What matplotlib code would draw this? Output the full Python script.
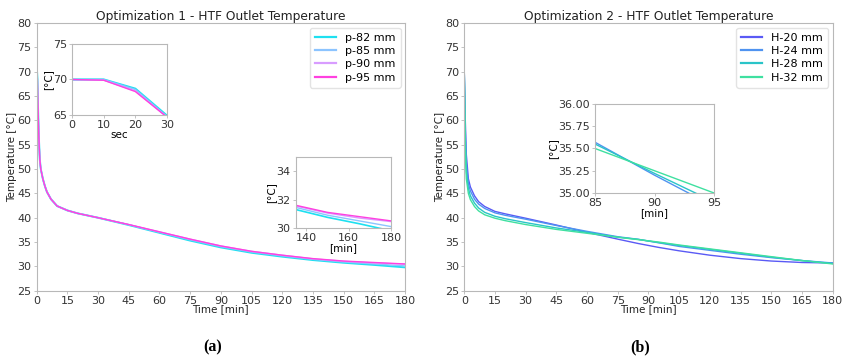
import matplotlib
matplotlib.use("Agg")
import matplotlib.pyplot as plt
import numpy as np

# ---------------- data ----------------
t1 = [0, 1/6, 1/3, 0.5, 1, 1.5, 2, 3, 4, 5, 7, 10, 15, 20, 30, 45, 60, 75, 90, 105, 120, 135, 150, 165, 180]
p82 = [70, 70.0, 68.7, 64.9, 57, 52, 50, 48, 46.5, 45.3, 43.8, 42.4, 41.5, 40.9, 40.0, 38.5, 36.9, 35.3, 33.9, 32.8, 32.0, 31.3, 30.75, 30.3, 29.8]
p85 = [70, 70.0, 68.6, 64.8, 57, 52, 50, 48, 46.5, 45.3, 43.8, 42.4, 41.5, 40.9, 40.0, 38.55, 37.0, 35.45, 34.05, 32.95, 32.15, 31.45, 30.9, 30.5, 30.1]
p90 = [70, 69.9, 68.4, 64.7, 57, 52, 50, 48, 46.5, 45.3, 43.8, 42.4, 41.5, 40.9, 40.0, 38.6, 37.1, 35.6, 34.2, 33.1, 32.3, 31.55, 31.05, 30.7, 30.45]
p95 = [70, 69.9, 68.3, 64.7, 57, 52, 50, 48, 46.5, 45.3, 43.8, 42.4, 41.5, 40.9, 40.0, 38.6, 37.1, 35.6, 34.2, 33.1, 32.3, 31.6, 31.1, 30.8, 30.5]
labels1 = ["p-82 mm", "p-85 mm", "p-90 mm", "p-95 mm"]
colors1 = ["#1ee0f0", "#8cc4ff", "#d89cff", "#ff40e0"]

t2 = [0, 0.5, 1, 2, 3, 5, 7, 10, 15, 20, 30, 45, 60, 75, 85, 90, 95, 105, 120, 135, 150, 165, 180]
h20 = [70, 60, 53, 48, 46.3, 44.5, 43.3, 42.3, 41.3, 40.8, 39.9, 38.5, 37.0, 35.6, 34.7, 34.3, 33.9, 33.2, 32.3, 31.6, 31.1, 30.8, 30.7]
h24 = [70, 58, 51, 47, 45.5, 43.8, 42.8, 41.9, 41.0, 40.5, 39.7, 38.4, 37.2, 36.1, 35.57, 35.2, 34.85, 34.1, 33.3, 32.5, 31.8, 31.2, 30.7]
h28 = [70, 56, 49.5, 46, 44.5, 43, 42, 41.1, 40.3, 39.8, 39.0, 37.9, 37.0, 36.0, 35.55, 35.22, 34.9, 34.3, 33.5, 32.7, 31.9, 31.2, 30.6]
h32 = [70, 54, 48, 45, 43.7, 42.3, 41.4, 40.6, 39.9, 39.4, 38.6, 37.6, 36.8, 36.0, 35.5, 35.25, 35.0, 34.4, 33.6, 32.8, 32.0, 31.2, 30.5]
labels2 = ["H-20 mm", "H-24 mm", "H-28 mm", "H-32 mm"]
colors2 = ["#5a5af5", "#4f93f0", "#2ac4c8", "#3fe0a0"]

xticks_main = list(range(0, 181, 15))
yticks_main = list(range(25, 81, 5))

# ---------------- figure ----------------
fig = plt.figure(figsize=(8.42, 3.56), dpi=100)
SP = "#b8b8b8"

def style(ax, fs=8):
    for s in ax.spines.values():
        s.set_color(SP)
        s.set_linewidth(0.8)
    ax.tick_params(labelsize=fs, colors="#333333", length=2.5, width=0.6, pad=1.2)
    ax.tick_params(color=SP)

def main(ax, t, series, labels, colors, title, lws):
    for y, lab, c, lw in zip(series, labels, colors, lws):
        ax.plot(t, y, color=c, lw=lw, label=lab)
    ax.set_xlim(0, 180)
    ax.set_ylim(25, 80)
    ax.set_xticks(xticks_main)
    ax.set_yticks(yticks_main)
    ax.set_title(title, fontsize=8.8, pad=2, color="#222222")
    ax.set_xlabel("Time [min]", fontsize=7.5, labelpad=-1, color="#222222")
    ax.set_ylabel("Temperature [°C]", fontsize=7.5, labelpad=0, color="#222222")
    style(ax)
    leg = ax.legend(loc="upper right", fontsize=8, frameon=True, handlelength=1.9,
                    handletextpad=0.8, borderpad=0.45, labelspacing=0.3, fancybox=True,
                    borderaxespad=0.4)
    leg.get_frame().set_edgecolor("#dddddd")
    for l in leg.get_lines():
        l.set_linewidth(1.6)

ax1 = fig.add_axes([0.0436, 0.1834, 0.4374, 0.7516])
main(ax1, t1, [p82, p85, p90, p95], labels1, colors1,
     "Optimization 1 - HTF Outlet Temperature", [1.4, 1.0, 1.0, 1.0])
ax2 = fig.add_axes([0.5514, 0.1834, 0.4375, 0.7516])
main(ax2, t2, [h20, h24, h28, h32], labels2, colors2,
     "Optimization 2 - HTF Outlet Temperature", [1.0, 1.0, 1.0, 1.0])

# inset 1: first seconds
in1 = fig.add_axes([0.0855, 0.677, 0.1128, 0.1994])
for y, c, lw in zip([p82, p85, p90, p95], colors1, [1.6, 1.0, 1.0, 1.0]):
    in1.plot(np.array(t1) * 60, y, color=c, lw=lw)
in1.set_xlim(0, 30)
in1.set_ylim(65, 75)
in1.set_xticks([0, 10, 20, 30])
in1.set_yticks([65, 70, 75])
in1.set_xlabel("sec", fontsize=7.5, labelpad=0)
in1.set_ylabel("[°C]", fontsize=7.5, labelpad=0)
style(in1)

# inset 2: end
in2 = fig.add_axes([0.3512, 0.3596, 0.1132, 0.1994])
for y, c, lw in zip([p82, p85, p90, p95], colors1, [1.2, 1.0, 1.0, 1.0]):
    in2.plot(t1, y, color=c, lw=lw)
in2.set_xlim(135, 180)
in2.set_ylim(30, 35)
in2.set_xticks([140, 160, 180])
in2.set_yticks([30, 32, 34])
in2.set_xlabel("[min]", fontsize=7.5, labelpad=0)
in2.set_ylabel("[°C]", fontsize=7.5, labelpad=0)
style(in2)

# inset 3: 85-95 min
in3 = fig.add_axes([0.7067, 0.4579, 0.1413, 0.25])
for y, c in zip([h20, h24, h28, h32], colors2):
    in3.plot(t2, y, color=c, lw=1.0)
in3.set_xlim(85, 95)
in3.set_ylim(35, 36)
in3.set_xticks([85, 90, 95])
in3.set_yticks([35.0, 35.25, 35.5, 35.75, 36.0])
in3.set_yticklabels(["35.00", "35.25", "35.50", "35.75", "36.00"])
in3.set_xlabel("[min]", fontsize=7.5, labelpad=0)
in3.set_ylabel("[°C]", fontsize=7.5, labelpad=0)
style(in3)

fig.text(0.252, 0.012, "(a)", fontsize=11.5, fontweight="bold", family="Liberation Serif", ha="center")
fig.text(0.760, 0.012, "(b)", fontsize=11.5, fontweight="bold", family="Liberation Serif", ha="center")

fig.savefig("out.png", dpi=100)
